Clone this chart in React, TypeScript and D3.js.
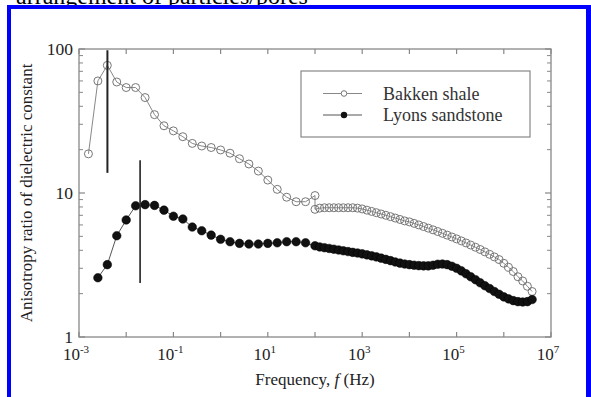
import React from "react";
import * as d3 from "d3";

// log10 of frequency (Hz) for the two measurement sweeps
const bakkenLowExp = [-2.8, -2.6, -2.4, -2.2, -2.0, -1.8, -1.6, -1.4, -1.2, -1.0, -0.8, -0.6, -0.4, -0.2, 0.0, 0.2, 0.4, 0.6, 0.8, 1.0, 1.2, 1.4, 1.6, 1.8, 2.0];
const lyonsLowExp = [-2.6, -2.4, -2.2, -2.0, -1.8, -1.6, -1.4, -1.2, -1.0, -0.8, -0.6, -0.4, -0.2, 0.0, 0.2, 0.4, 0.6, 0.8, 1.0, 1.2, 1.4, 1.6, 1.8];
const highExp = [2.0, 2.1, 2.2, 2.3, 2.4, 2.5, 2.6, 2.7, 2.8, 2.9, 3.0, 3.1, 3.2, 3.3, 3.4, 3.5, 3.6, 3.7, 3.8, 3.9, 4.0, 4.1, 4.2, 4.3, 4.4, 4.5, 4.6, 4.7, 4.8, 4.9, 5.0, 5.1, 5.2, 5.3, 5.4, 5.5, 5.6, 5.7, 5.8, 5.9, 6.0, 6.1, 6.2, 6.3, 6.4, 6.5, 6.6];

const bakkenLow = [18.7, 60, 77, 59, 54, 54, 46, 35, 29.3, 27, 24.6, 22.1, 21.2, 20.7, 19.9, 18.9, 17.3, 15.9, 14.2, 12.3, 10.6, 9.35, 8.7, 8.7, 9.6];
const bakkenHigh = [7.7, 7.85, 7.9, 7.9, 7.9, 7.9, 7.9, 7.9, 7.9, 7.85, 7.75, 7.6, 7.45, 7.3, 7.15, 7.0, 6.85, 6.7, 6.55, 6.4, 6.3, 6.15, 6.0, 5.85, 5.7, 5.55, 5.4, 5.25, 5.1, 4.95, 4.8, 4.65, 4.5, 4.35, 4.2, 4.05, 3.9, 3.75, 3.6, 3.45, 3.25, 3.05, 2.85, 2.62, 2.45, 2.25, 2.07];
const lyonsLow = [2.58, 3.18, 5.05, 6.5, 8.15, 8.3, 8.2, 7.6, 6.9, 6.6, 5.8, 5.47, 5.1, 4.77, 4.59, 4.47, 4.42, 4.42, 4.47, 4.51, 4.59, 4.59, 4.51];
const lyonsHigh = [4.3, 4.22, 4.17, 4.12, 4.07, 4.02, 3.97, 3.92, 3.87, 3.83, 3.78, 3.72, 3.66, 3.6, 3.53, 3.46, 3.39, 3.32, 3.26, 3.21, 3.18, 3.15, 3.13, 3.12, 3.12, 3.15, 3.2, 3.21, 3.18, 3.1, 3.0, 2.88, 2.75, 2.62, 2.5, 2.38, 2.27, 2.17, 2.07, 1.98, 1.9, 1.84, 1.79, 1.76, 1.75, 1.76, 1.82];

// vertical marker lines: [frequency, low ratio, high ratio]
const markers = [
  { f: 0.004, lo: 13.8, hi: 98, w: 2 },
  { f: 0.0197, lo: 2.37, hi: 16.9, w: 1.6 },
];

const xTickExp = [-3, -2, -1, 0, 1, 2, 3, 4, 5, 6, 7];
const xLabelExp = [-3, -1, 1, 3, 5, 7];
const yLabels = [1, 10, 100];

const serif = "'Liberation Serif', 'Times New Roman', Times, serif";

export default function App() {
  const left = 79, right = 551, top = 49, bottom = 337;
  const x = d3.scaleLog().domain([1e-3, 1e7]).range([left, right]);
  const y = d3.scaleLog().domain([1, 100]).range([bottom, top]);

  const bakken: [number, number][] = bakkenLowExp
    .map((e, i) => [Math.pow(10, e), bakkenLow[i]] as [number, number])
    .concat(highExp.map((e, i) => [Math.pow(10, e), bakkenHigh[i]] as [number, number]));
  const lyons: [number, number][] = lyonsLowExp
    .map((e, i) => [Math.pow(10, e), lyonsLow[i]] as [number, number])
    .concat(highExp.map((e, i) => [Math.pow(10, e), lyonsHigh[i]] as [number, number]));

  const line = d3.line<[number, number]>().x(d => x(d[0])).y(d => y(d[1]));

  const yMinor: number[] = [];
  [1, 10].forEach(b => { for (let k = 2; k <= 9; k++) yMinor.push(b * k); });

  const axisColor = "#888";

  return (
    <svg width={591} height={397} style={{ position: "absolute", left: 0, top: 0, background: "#fff" }} fontFamily={serif}>
      <text x={16} y={4} fontSize={24} fill="#000">arrangement of particles/pores</text>
      <rect x={7} y={5} width={584} height={4} fill="#0000ff" />
      <rect x={7} y={5} width={4} height={392} fill="#0000ff" />
      <rect x={586} y={5} width={5} height={392} fill="#0000ff" />

      {/* frame */}
      <rect x={left} y={top} width={right - left} height={bottom - top} fill="none" stroke={axisColor} strokeWidth={1.3} />
      {xTickExp.map(e => (
        <g key={"xt" + e} stroke={axisColor} strokeWidth={1.2}>
          <line x1={x(Math.pow(10, e))} x2={x(Math.pow(10, e))} y1={bottom} y2={bottom - 5} />
          <line x1={x(Math.pow(10, e))} x2={x(Math.pow(10, e))} y1={top} y2={top + 5} />
        </g>
      ))}
      {yLabels.map(v => (
        <g key={"ym" + v} stroke={axisColor} strokeWidth={1.2}>
          <line x1={left} x2={left + 6} y1={y(v)} y2={y(v)} />
          <line x1={right} x2={right - 6} y1={y(v)} y2={y(v)} />
        </g>
      ))}
      {yMinor.map(v => (
        <g key={"yn" + v} stroke={axisColor} strokeWidth={1}>
          <line x1={left} x2={left + 4} y1={y(v)} y2={y(v)} />
          <line x1={right} x2={right - 4} y1={y(v)} y2={y(v)} />
        </g>
      ))}

      {xLabelExp.map(e => (
        <text key={"xl" + e} x={x(Math.pow(10, e)) - 3} y={360} textAnchor="middle" fontSize={17} fill="#222">
          10<tspan dy={-7} fontSize={11}>{e}</tspan>
        </text>
      ))}
      {yLabels.map(v => (
        <text key={"yl" + v} x={73} y={y(v) + 6} textAnchor="end" fontSize={17.5} fill="#222">{v}</text>
      ))}

      <text x={315} y={385} textAnchor="middle" fontSize={17} fill="#222">
        Frequency, <tspan fontStyle="italic">f</tspan> (Hz)
      </text>
      <text transform="translate(32,193) rotate(-90)" textAnchor="middle" fontSize={17} fill="#222">
        Anisotropy ratio of dielectric constant
      </text>

      {/* series */}
      <path d={line(bakken) || ""} fill="none" stroke="#888" strokeWidth={1} />
      <path d={line(lyons) || ""} fill="none" stroke="#555" strokeWidth={1} />
      {bakken.map((d, i) => (
        <circle key={"b" + i} cx={x(d[0])} cy={y(d[1])} r={4} fill="none" stroke="#777" strokeWidth={1} />
      ))}
      {lyons.map((d, i) => (
        <circle key={"l" + i} cx={x(d[0])} cy={y(d[1])} r={4.3} fill="#111" stroke="#000" strokeWidth={0.5} />
      ))}
      {markers.map((m, i) => (
        <line key={"m" + i} x1={x(m.f)} x2={x(m.f)} y1={y(m.lo)} y2={y(m.hi)} stroke="#222" strokeWidth={m.w} />
      ))}

      {/* legend */}
      <rect x={301} y={71} width={229} height={66} fill="#fff" stroke={axisColor} strokeWidth={1.2} />
      <line x1={323} x2={362} y1={93.5} y2={93.5} stroke="#888" strokeWidth={1} />
      <circle cx={344} cy={93.5} r={2.8} fill="#fff" stroke="#777" strokeWidth={1} />
      <text x={383} y={99.5} fontSize={18} fill="#333">Bakken shale</text>
      <line x1={323} x2={362} y1={115} y2={115} stroke="#555" strokeWidth={1} />
      <circle cx={344} cy={115} r={3.2} fill="#111" />
      <text x={383} y={121} fontSize={18} fill="#333">Lyons sandstone</text>
    </svg>
  );
}
